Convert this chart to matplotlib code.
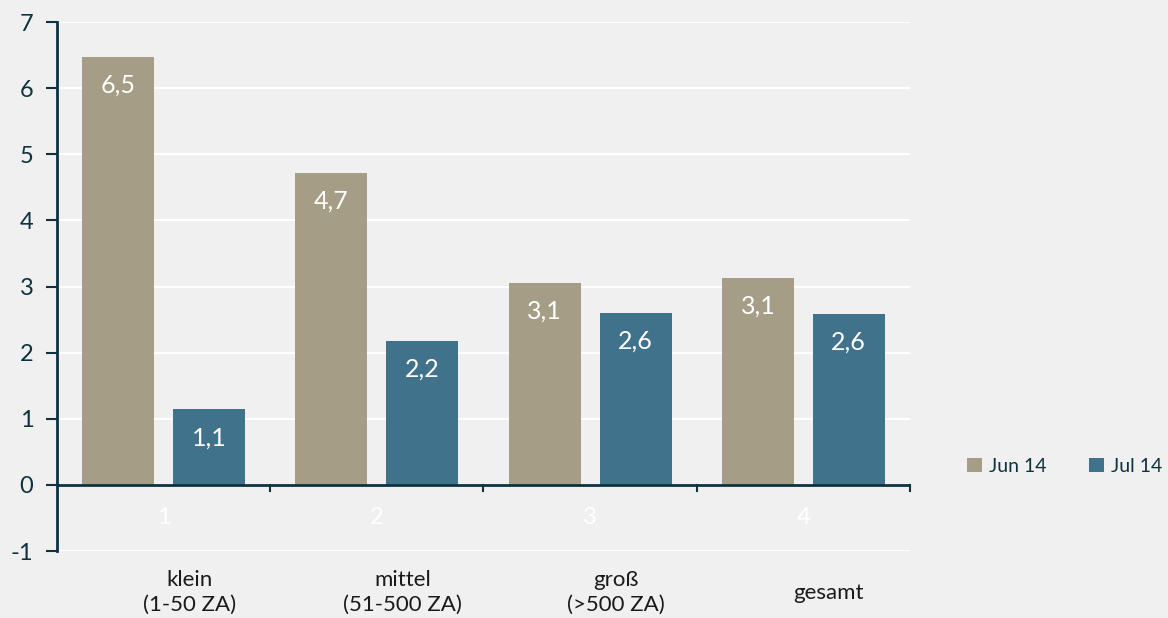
import matplotlib.pyplot as plt
import numpy as np

plt.rcParams['font.family'] = ['Lato', 'DejaVu Sans']

categories = ['1', '2', '3', '4']
group_labels = ['klein\n(1-50 ZA)', 'mittel\n(51-500 ZA)', 'groß\n(>500 ZA)', 'gesamt']
jun14 = [6.47, 4.72, 3.06, 3.13]
jul14 = [1.14, 2.18, 2.60, 2.59]
jun_labels = ['6,5', '4,7', '3,1', '3,1']
jul_labels = ['1,1', '2,2', '2,6', '2,6']
series_names = ['Jun 14', 'Jul 14']

bg = '#eff0ef'
dark = '#0d3340'
c_jun = '#a59d85'
c_jul = '#41728c'

fig = plt.figure(figsize=(11.68, 6.18), dpi=100, facecolor=bg)
ax = fig.add_axes([0.0488, 0.1084, 0.7303, 0.856])
ax.set_facecolor(bg)

x = np.arange(len(categories))
w = 0.338
off = 0.213
b1 = ax.bar(x - off, jun14, w, color=c_jun, label=series_names[0], zorder=3)
b2 = ax.bar(x + off, jul14, w, color=c_jul, label=series_names[1], zorder=3)

for bars, labs in ((b1, jun_labels), (b2, jul_labels)):
    for r, t in zip(bars, labs):
        ax.text(r.get_x() + r.get_width() / 2, r.get_height() - 0.43, t,
                ha='center', va='center', color='white', fontsize=18, zorder=4)

ax.set_xlim(-0.5, len(categories) - 0.5)
ax.set_ylim(-1, 7)
ax.set_yticks(range(-1, 8))
ax.set_yticklabels([str(v) for v in range(-1, 8)], fontsize=17, color=dark)
ax.grid(axis='y', color='white', linewidth=1.5, zorder=0)
ax.tick_params(axis='y', length=8, width=1.5, color=dark, pad=9)

# x axis drawn at zero with ticks at category boundaries
ax.set_xticks([])
for s in ('top', 'right', 'bottom'):
    ax.spines[s].set_visible(False)
ax.spines['left'].set_color(dark)
ax.spines['left'].set_linewidth(2)
ax.axhline(0, color=dark, linewidth=2, zorder=5)
for b in np.arange(0.5, len(categories), 1.0):
    ax.plot([b, b], [0, -0.1], color=dark, linewidth=1.5, zorder=5, clip_on=False)

for i, c in enumerate(categories):
    ax.text(i, -0.5, c, ha='center', va='center', color='white', fontsize=17)

for i, g in enumerate(group_labels):
    ax.text(i + 0.12, -1.63, g, ha='center', va='center', color='#1a1a1a',
            fontsize=16, linespacing=1.3)

leg = fig.legend(handles=[b1, b2], loc='center left', bbox_to_anchor=(0.825, 0.245),
                 ncol=2, frameon=False, fontsize=14, handlelength=0.75, handleheight=0.75,
                 handletextpad=0.35, columnspacing=2.2, borderaxespad=0, borderpad=0.2)
for t in leg.get_texts():
    t.set_color(dark)

fig.savefig('out.png', dpi=100, facecolor=bg)
